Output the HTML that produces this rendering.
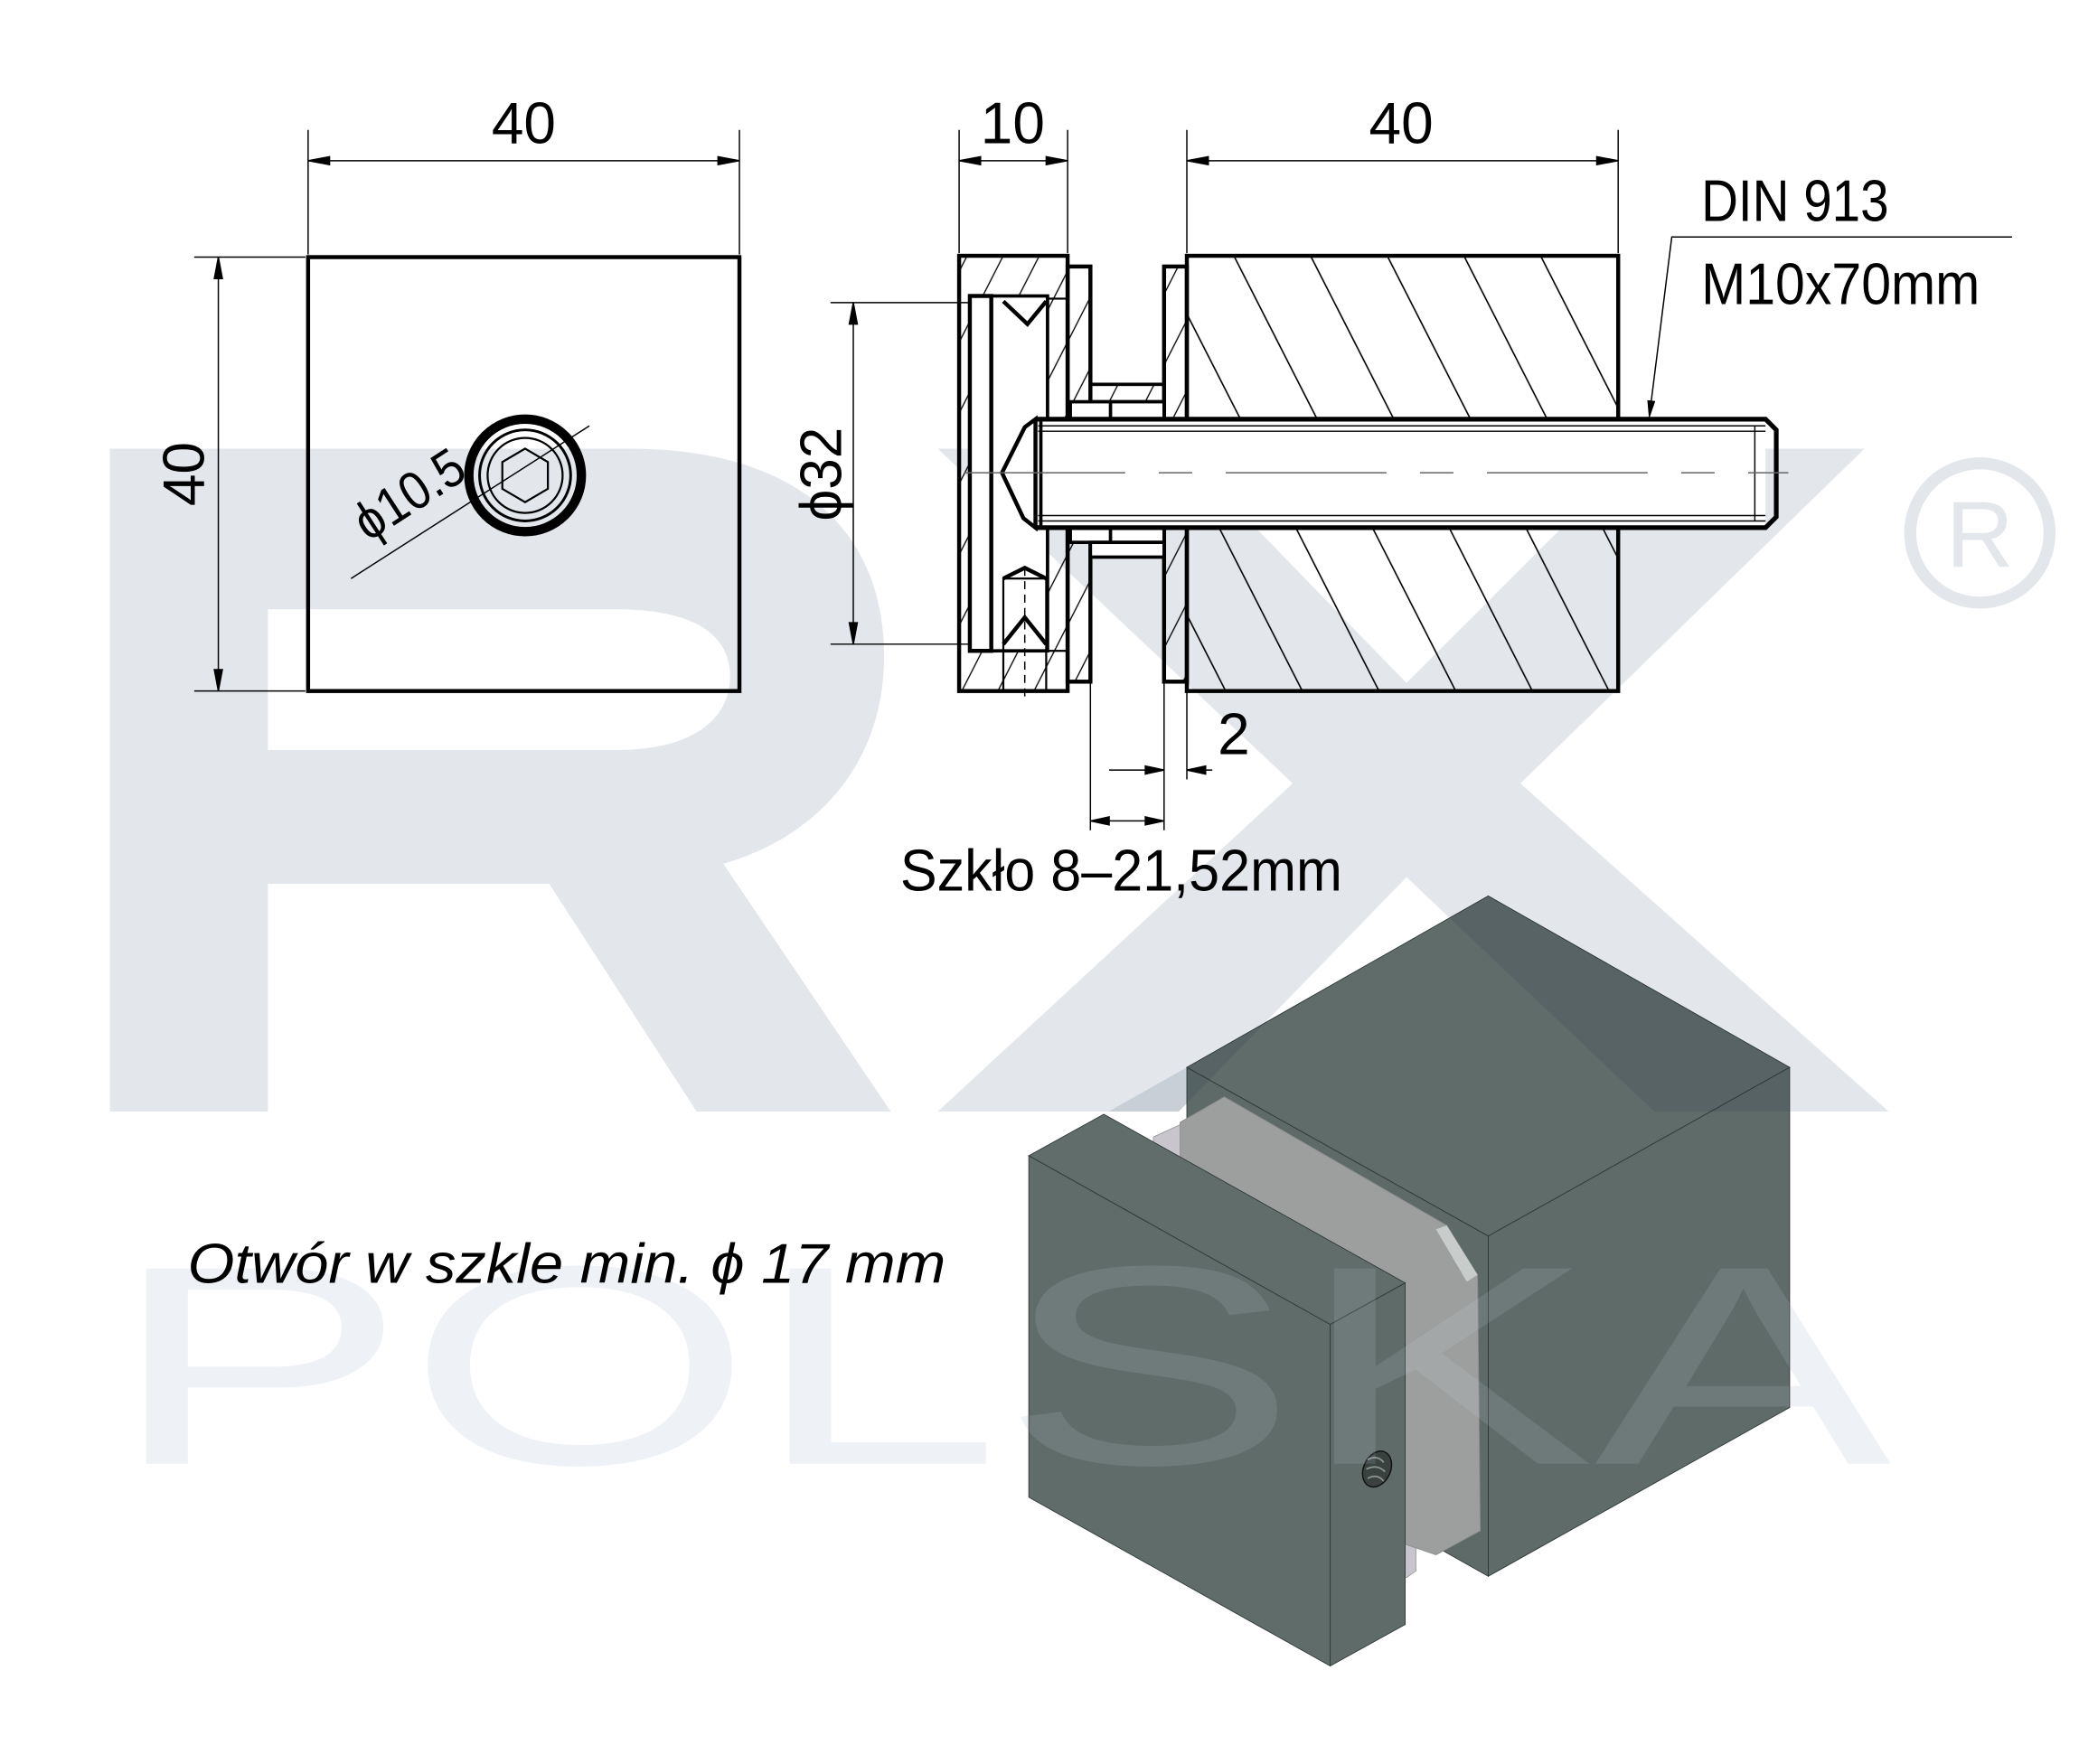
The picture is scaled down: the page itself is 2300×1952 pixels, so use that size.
<!DOCTYPE html>
<html><head><meta charset="utf-8"><style>
html,body{margin:0;padding:0;background:#fff}
svg{display:block}
text{font-family:"Liberation Sans",sans-serif}
</style></head><body>
<svg width="2300" height="1952" viewBox="0 0 1552 1317.2" preserveAspectRatio="none" xmlns="http://www.w3.org/2000/svg">
<defs>
<pattern id="hb" width="51" height="51" patternUnits="userSpaceOnUse" patternTransform="rotate(-27)"><line x1="20" y1="0" x2="20" y2="51" stroke="#000" stroke-width="1.1"/></pattern>
<pattern id="hs" width="24" height="24" patternUnits="userSpaceOnUse" patternTransform="rotate(27)"><line x1="10" y1="0" x2="10" y2="24" stroke="#000" stroke-width="0.9"/></pattern>
<marker id="ar" markerWidth="14" markerHeight="6" refX="14" refY="3" orient="auto" markerUnits="userSpaceOnUse"><path d="M0,0 L14,3 L0,6 Z" fill="#000"/></marker>
</defs>
<rect width="1552" height="1317.2" fill="#fff"/>
<!-- watermark -->
<g fill="#e3e7ec">
<path fill-rule="evenodd" d="M82 335 H470 C600 335 660 400 660 490 C660 570 610 625 540 645 L665 830 H520 L410 660 H200 V830 H82 Z M200 455 V560 H460 C520 560 545 535 545 505 C545 475 520 455 460 455 Z"/>
<polygon points="700,335 880,335 1050,510 1225,335 1392,335 1135,585 1410,830 1235,830 1050,655 880,830 700,830 965,585"/>
</g>
<circle cx="1478" cy="398" r="52" fill="none" stroke="#e3e7ec" stroke-width="9"/>
<text x="1478" y="423" font-size="70" fill="#e3e7ec" text-anchor="middle">R</text>
<text x="82" y="1093" font-size="212" fill="#eef1f6" textLength="1330" lengthAdjust="spacingAndGlyphs">POLSKA</text>

<g stroke="#000" fill="none">
<!-- left view -->
<rect x="230" y="192" width="322" height="324" stroke-width="3"/>
<line x1="230" y1="97" x2="230" y2="190" stroke-width="1"/>
<line x1="552" y1="97" x2="552" y2="190" stroke-width="1"/>
<line x1="246" y1="120" x2="536" y2="120" stroke-width="1"/>
<path d="M230 120 l16 -3 v6 z M552 120 l-16 -3 v6 z" fill="#000"/>
<line x1="145" y1="192" x2="228" y2="192" stroke-width="1"/>
<line x1="145" y1="516" x2="228" y2="516" stroke-width="1"/>
<line x1="163" y1="208" x2="163" y2="500" stroke-width="1"/>
<path d="M163 192 l-3 16 h6 z M163 516 l-3 -16 h6 z" fill="#000"/>
<circle cx="392" cy="355" r="42" stroke-width="7"/>
<circle cx="392" cy="355" r="34" stroke-width="2"/>
<circle cx="392" cy="355" r="28" stroke-width="1.5"/>
<polygon points="392,335 409,345 409,365 392,375 375,365 375,345" stroke-width="1.5"/>
<line x1="262" y1="432" x2="440" y2="318" stroke-width="1"/>

<!-- section view -->
<rect x="716" y="191" width="81" height="325" fill="url(#hs)" stroke="none"/>
<rect x="724" y="221" width="58" height="265" fill="#fff" stroke="none"/>
<rect x="716" y="191" width="81" height="325" stroke-width="3"/>
<rect x="724" y="221" width="16" height="265" stroke-width="3"/>
<rect x="740" y="221" width="42" height="265" stroke-width="2.5"/>
<rect x="782" y="223" width="15" height="263" stroke-width="1.5"/>
<path d="M749 225 L767 242 L781 225" stroke-width="3"/>
<path d="M749 432 L765 424 L781 432 M749 481 L765 461 L781 481" stroke-width="3"/>
<rect x="749" y="432" width="32" height="84" stroke-width="1.5"/>
<line x1="765" y1="424" x2="765" y2="520" stroke-width="1" stroke-dasharray="6 4"/>
<rect x="797" y="199" width="17" height="310" fill="url(#hs)" stroke-width="3"/>
<rect x="869" y="199" width="17" height="310" fill="url(#hs)" stroke-width="3"/>
<rect x="886" y="191" width="322" height="325" fill="url(#hb)" stroke-width="3"/>
<!-- sleeves -->
<rect x="814" y="287" width="55" height="13" fill="url(#hs)" stroke-width="2.5"/>
<rect x="799" y="300" width="70" height="13" fill="#fff" stroke-width="2.5"/>
<line x1="829" y1="300" x2="829" y2="313" stroke-width="2.5"/>
<rect x="799" y="393" width="70" height="12" fill="#fff" stroke-width="2.5"/>
<line x1="829" y1="393" x2="829" y2="405" stroke-width="2.5"/>
<rect x="814" y="405" width="55" height="11" fill="#fff" stroke-width="2.5"/>
<!-- bolt -->
<rect x="773" y="313" width="545" height="81" fill="#fff" stroke="none"/>
<path d="M773 313 H1318 L1326 321 V386 L1318 394 H773" stroke-width="3.5"/>
<path d="M773 313 L765 319 L748 353 L764 387 L773 394 Z" fill="#fff" stroke-width="3"/>
<line x1="775" y1="318" x2="1318" y2="318" stroke-width="1"/>
<line x1="775" y1="322" x2="1318" y2="322" stroke-width="1"/>
<line x1="775" y1="385" x2="1318" y2="385" stroke-width="1"/>
<line x1="775" y1="389" x2="1318" y2="389" stroke-width="1"/>
<line x1="777" y1="313" x2="777" y2="394" stroke-width="2.5"/>
<line x1="1310" y1="318" x2="1310" y2="389" stroke-width="1"/>
<line x1="720" y1="353" x2="1335" y2="353" stroke-width="1" stroke="#666" stroke-dasharray="120 25 25 25"/>
<!-- dims section -->
<line x1="716" y1="97" x2="716" y2="189" stroke-width="1"/>
<line x1="797" y1="97" x2="797" y2="189" stroke-width="1"/>
<line x1="732" y1="120" x2="781" y2="120" stroke-width="1"/>
<path d="M716 120 l16 -3 v6 z M797 120 l-16 -3 v6 z" fill="#000"/>
<line x1="886" y1="97" x2="886" y2="189" stroke-width="1"/>
<line x1="1208" y1="97" x2="1208" y2="189" stroke-width="1"/>
<line x1="902" y1="120" x2="1192" y2="120" stroke-width="1"/>
<path d="M886 120 l16 -3 v6 z M1208 120 l-16 -3 v6 z" fill="#000"/>
<line x1="620" y1="226" x2="724" y2="226" stroke-width="1"/>
<line x1="620" y1="481" x2="724" y2="481" stroke-width="1"/>
<line x1="637" y1="242" x2="637" y2="465" stroke-width="1"/>
<path d="M637 226 l-3 16 h6 z M637 481 l-3 -16 h6 z" fill="#000"/>
<polyline points="1502,177 1248,177 1231,313" stroke-width="1" marker-end="url(#ar)"/>
<line x1="814" y1="509" x2="814" y2="620" stroke-width="1"/>
<line x1="869" y1="509" x2="869" y2="620" stroke-width="1"/>
<line x1="886" y1="516" x2="886" y2="582" stroke-width="1"/>
<line x1="828" y1="575" x2="869" y2="575" stroke-width="1"/>
<line x1="886" y1="575" x2="905" y2="575" stroke-width="1"/>
<path d="M869 575 l-14 -3 v6 z M886 575 l14 -3 v6 z" fill="#000"/>
<line x1="814" y1="613" x2="869" y2="613" stroke-width="1"/>
<path d="M814 613 l14 -3 v6 z M869 613 l-14 -3 v6 z" fill="#000"/>
</g>

<g fill="#000" font-size="44">
<text x="391" y="107" text-anchor="middle" textLength="48" lengthAdjust="spacingAndGlyphs">40</text>
<text transform="translate(152 354) rotate(-90)" text-anchor="middle" textLength="48" lengthAdjust="spacingAndGlyphs">40</text>
<text transform="translate(275 405) rotate(-33)" font-size="40" textLength="90" lengthAdjust="spacingAndGlyphs">ϕ10.5</text>
<text x="756" y="107" text-anchor="middle" textLength="48" lengthAdjust="spacingAndGlyphs">10</text>
<text x="1046" y="107" text-anchor="middle" textLength="48" lengthAdjust="spacingAndGlyphs">40</text>
<text transform="translate(628 354) rotate(-90)" text-anchor="middle" textLength="70" lengthAdjust="spacingAndGlyphs">ϕ32</text>
<text x="1270" y="165" textLength="140" lengthAdjust="spacingAndGlyphs">DIN 913</text>
<text x="1270" y="227" textLength="208" lengthAdjust="spacingAndGlyphs">M10x70mm</text>
<text x="909" y="563" textLength="24" lengthAdjust="spacingAndGlyphs">2</text>
<text x="672" y="665" textLength="330" lengthAdjust="spacingAndGlyphs">Szkło 8–21,52mm</text>
<text x="140" y="958" font-size="42" font-style="italic" textLength="566" lengthAdjust="spacingAndGlyphs">Otwór w szkle min. ϕ 17 mm</text>
</g>

<!-- 3D render -->
<g stroke="#2f3838" stroke-width="0.6">
<polygon points="886,797 1111,669 1336,797 1111,923" fill="#606c6a"/>
<polygon points="1111,923 1336,797 1336,1051 1111,1177" fill="#5f6b69"/>
<polygon points="886,797 1111,923 1111,1177 886,1050" fill="#5e6a68"/>
<polygon points="861,849 885,838 1057,935 1057,1173 1050,1178 861,1080" fill="#c9c5cc" stroke="#9a9a9e"/>
<polygon points="881,838 914,819 1080,915 1103,952 1105,1143 1072,1161 1040,1150 881,1070" fill="#9c9f9e" stroke="#8a8c8c"/>
<polygon points="1080,915 1103,952 1095,957 1072,918" fill="#c8cccb" stroke="none"/>
<polygon points="768,863 824,832 1049,958 993,989" fill="#616d6b"/>
<polygon points="768,863 993,989 993,1244 768,1118" fill="#606c6a"/>
<polygon points="993,989 1049,958 1049,1213 993,1244" fill="#5f6b69"/>
</g>
<ellipse cx="1028" cy="1097" rx="10" ry="14" transform="rotate(25 1028 1097)" fill="#3a4240" stroke="#111" stroke-width="1"/>
<path d="M1021 1090 q7 -4 12 2 M1020 1097 q8 -4 14 2 M1021 1104 q7 -4 12 2" stroke="#8a9290" stroke-width="1.2" fill="none"/>
<!-- watermark overlay on render -->
<g opacity="0.12">
<clipPath id="cr"><polygon points="768,863 824,832 886,797 1111,669 1336,797 1336,1051 1111,1177 1049,1213 993,1244 768,1118"/></clipPath>
<g clip-path="url(#cr)">
<polygon points="700,335 880,335 1050,510 1225,335 1392,335 1135,585 1410,830 1235,830 1050,655 880,830 700,830 965,585" fill="#1a2a40"/>
<text x="82" y="1093" font-size="212" fill="#d8e4f0" textLength="1330" lengthAdjust="spacingAndGlyphs">POLSKA</text>
</g>
</g>
</svg>
</body></html>
